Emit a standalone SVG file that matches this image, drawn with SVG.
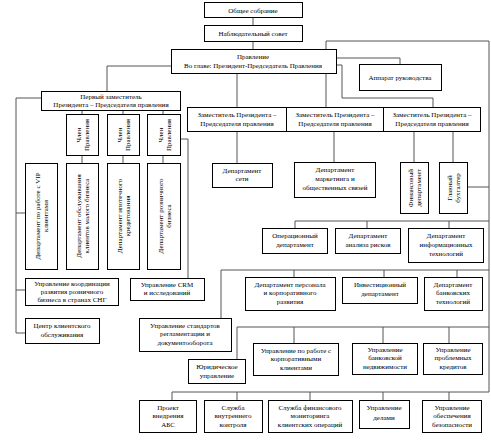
<svg xmlns="http://www.w3.org/2000/svg" width="491" height="442" viewBox="0 0 491 442">
<style>
rect{fill:#fff;stroke:#000;stroke-width:1}
text{font-family:"Liberation Serif","Times New Roman",serif;font-size:7px;fill:#000;text-anchor:middle}
#connectors path{fill:none;stroke:#555;stroke-width:1}
</style>
<rect x="0" y="0" width="491" height="442" style="stroke:none"/>
<g id="connectors">
<path d="M253,17V25M253,41V49"/>
<path d="M326,107V41H489V392"/>
<path d="M171,66H107V91"/>
<path d="M336,58H400V64"/>
<path d="M336,65H342V98H433V107"/>
<path d="M237,73V107"/>
<path d="M41,98H16V333H25M16,213H25M16,290H25"/>
<path d="M82,110V114M123,110V114M163,110V114M82,155V163M123,155V163M163,155V163"/>
<path d="M180,139H188V278"/>
<path d="M237,131V163M334,131V162M414,131V162M453,131V162M467,187H489"/>
<path d="M295,221H489M295,221V228M367,221V228M449,221V228"/>
<path d="M221,270H489M221,270V318M294,270V277M384,270V277M457,270V277"/>
<path d="M237,327H489M237,327V359M294,327V343M383,327V343M449,327V343"/>
<path d="M172,392H489M172,392V400M237,392V400M310,392V400M383,392V400M449,392V400"/>
</g>
<g id="n1"><rect x="204.5" y="2.5" width="98" height="15"/><text x="253" y="12.5">Общее собрание</text></g>
<g id="n2"><rect x="204.5" y="25.5" width="98" height="16"/><text x="253" y="36">Наблюдательный совет</text></g>
<g id="n3"><rect x="171.5" y="49.5" width="165" height="24"/><text x="253" y="59">Правление</text><text x="253" y="68">Во главе: Президент-Председатель Правления</text></g>
<g id="n4"><rect x="359.5" y="64.5" width="82" height="26"/><text x="400" y="80">Аппарат руководства</text></g>
<g id="n5"><rect x="41.5" y="91.5" width="139" height="19"/><text x="111" y="99">Первый заместитель</text><text x="111" y="107">Президента – Председателя правления</text></g>
<g id="n6"><rect x="66.5" y="114.5" width="32" height="41"/><text transform="translate(82,135) rotate(-90)"><tspan x="0" y="-1.5">Член</tspan><tspan x="0" y="6.5">Правления</tspan></text></g>
<g id="n7"><rect x="107.5" y="114.5" width="32" height="41"/><text transform="translate(123,135) rotate(-90)"><tspan x="0" y="-1.5">Член</tspan><tspan x="0" y="6.5">Правления</tspan></text></g>
<g id="n8"><rect x="147.5" y="114.5" width="33" height="41"/><text transform="translate(164,135) rotate(-90)"><tspan x="0" y="-1.5">Член</tspan><tspan x="0" y="6.5">Правления</tspan></text></g>
<g id="n9"><rect x="25.5" y="163.5" width="32" height="106"/><text transform="translate(41,216) rotate(-90)"><tspan x="0" y="-1.5">Департамент по работе с VIP</tspan><tspan x="0" y="6.5">клиентами</tspan></text></g>
<g id="n10"><rect x="66.5" y="163.5" width="32" height="106"/><text transform="translate(82,216) rotate(-90)"><tspan x="0" y="-1.5">Департамент обслуживания</tspan><tspan x="0" y="6.5">клиентов малого бизнеса</tspan></text></g>
<g id="n11"><rect x="107.5" y="163.5" width="32" height="106"/><text transform="translate(123,216) rotate(-90)"><tspan x="0" y="-1.5">Департамент ипотечного</tspan><tspan x="0" y="6.5">кредитования</tspan></text></g>
<g id="n12"><rect x="147.5" y="163.5" width="33" height="106"/><text transform="translate(164,216) rotate(-90)"><tspan x="0" y="-1.5">Департамент розничного</tspan><tspan x="0" y="6.5">бизнеса</tspan></text></g>
<g id="n13"><rect x="187.5" y="107.5" width="99" height="24"/><text x="237" y="117">Заместитель Президента –</text><text x="237" y="126">Председателя правления</text></g>
<g id="n14"><rect x="286.5" y="107.5" width="97" height="24"/><text x="335" y="117">Заместитель Президента –</text><text x="335" y="126">Председателя правления</text></g>
<g id="n15"><rect x="383.5" y="107.5" width="97" height="24"/><text x="432" y="117">Заместитель Президента –</text><text x="432" y="126">Председателя правления</text></g>
<g id="n16"><rect x="212.5" y="163.5" width="60" height="24"/><text x="242" y="173">Департамент</text><text x="242" y="181">сети</text></g>
<g id="n17"><rect x="294.5" y="162.5" width="81" height="35"/><text x="335" y="172">Департамент</text><text x="335" y="181">маркетинга и</text><text x="335" y="190">общественных связей</text></g>
<g id="n18"><rect x="400.5" y="162.5" width="28" height="51"/><text transform="translate(414,188) rotate(-90)"><tspan x="0" y="-1.5">Финансовый</tspan><tspan x="0" y="6.5">департамент</tspan></text></g>
<g id="n19"><rect x="439.5" y="162.5" width="28" height="51"/><text transform="translate(453,188) rotate(-90)"><tspan x="0" y="-1.5">Главный</tspan><tspan x="0" y="6.5">бухгалтер</tspan></text></g>
<g id="n20"><rect x="262.5" y="228.5" width="65" height="25"/><text x="295" y="238">Операционный</text><text x="295" y="247">департамент</text></g>
<g id="n21"><rect x="335.5" y="228.5" width="65" height="25"/><text x="368" y="238">Департамент</text><text x="368" y="247">анализа рисков</text></g>
<g id="n22"><rect x="408.5" y="228.5" width="75" height="34"/><text x="446" y="238">Департамент</text><text x="446" y="247">информационных</text><text x="446" y="256">технологий</text></g>
<g id="n23"><rect x="25.5" y="278.5" width="93" height="27"/><text x="72" y="286">Управление координации</text><text x="72" y="294">развития розничного</text><text x="72" y="302">бизнеса в странах СНГ</text></g>
<g id="n24"><rect x="130.5" y="278.5" width="74" height="22"/><text x="167" y="287">Управление CRM</text><text x="167" y="295">и исследований</text></g>
<g id="n25"><rect x="245.5" y="277.5" width="90" height="33"/><text x="290" y="287">Департамент персонала</text><text x="290" y="295">и корпоративного</text><text x="290" y="304">развития</text></g>
<g id="n26"><rect x="342.5" y="277.5" width="75" height="26"/><text x="380" y="287">Инвестиционный</text><text x="380" y="296">департамент</text></g>
<g id="n27"><rect x="424.5" y="277.5" width="58" height="33"/><text x="453" y="287">Департамент</text><text x="453" y="295">банковских</text><text x="453" y="304">технологий</text></g>
<g id="n28"><rect x="25.5" y="318.5" width="74" height="25"/><text x="62" y="328">Центр клиентского</text><text x="62" y="337">обслуживания</text></g>
<g id="n29"><rect x="139.5" y="318.5" width="92" height="33"/><text x="185" y="328">Управление стандартов</text><text x="185" y="336">регламентации и</text><text x="185" y="345">документооборота</text></g>
<g id="n30"><rect x="188.5" y="359.5" width="57" height="24"/><text x="217" y="369">Юридическое</text><text x="217" y="378">управление</text></g>
<g id="n31"><rect x="253.5" y="343.5" width="85" height="32"/><text x="296" y="353">Управление по работе с</text><text x="296" y="361">корпоративными</text><text x="296" y="370">клиентами</text></g>
<g id="n32"><rect x="352.5" y="343.5" width="65" height="31"/><text x="385" y="352">Управление</text><text x="385" y="360">банковской</text><text x="385" y="369">недвижимости</text></g>
<g id="n33"><rect x="423.5" y="343.5" width="59" height="31"/><text x="453" y="352">Управление</text><text x="453" y="360">проблемных</text><text x="453" y="369">кредитов</text></g>
<g id="n34"><rect x="139.5" y="400.5" width="57" height="32"/><text x="168" y="410">Проект</text><text x="168" y="418">внедрения</text><text x="168" y="427">АБС</text></g>
<g id="n35"><rect x="204.5" y="400.5" width="58" height="32"/><text x="233" y="410">Служба</text><text x="233" y="418">внутреннего</text><text x="233" y="427">контроля</text></g>
<g id="n36"><rect x="268.5" y="400.5" width="84" height="32"/><text x="310" y="410">Служба финансового</text><text x="310" y="418">мониторинга</text><text x="310" y="427">клиентских операций</text></g>
<g id="n37"><rect x="359.5" y="400.5" width="50" height="28"/><text x="384" y="410">Управление</text><text x="384" y="420">делами</text></g>
<g id="n38"><rect x="422.5" y="400.5" width="59" height="32"/><text x="452" y="410">Управление</text><text x="452" y="418">обеспечения</text><text x="452" y="427">безопасности</text></g>
</svg>
